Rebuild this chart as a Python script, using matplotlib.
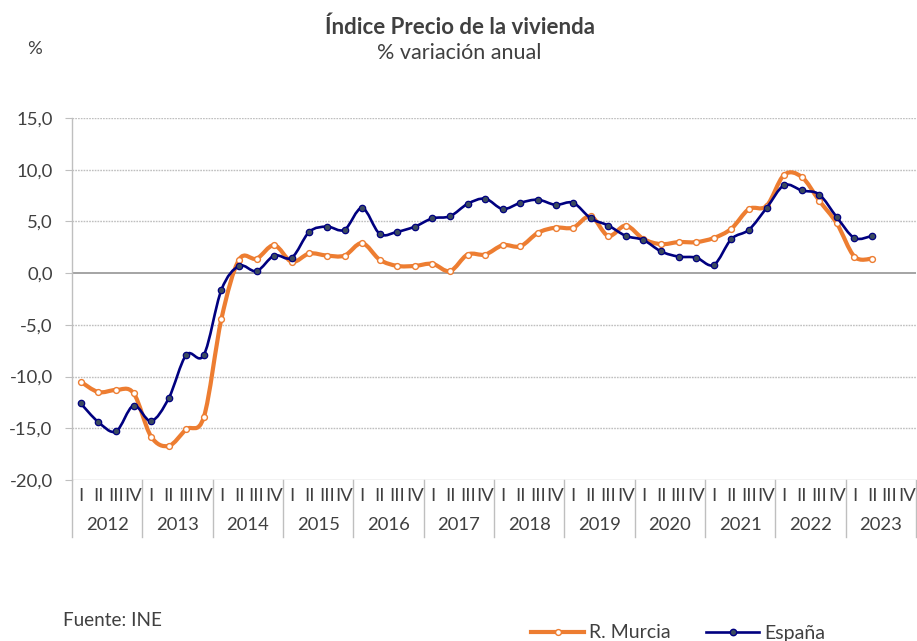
import numpy as np
import matplotlib.pyplot as plt
from matplotlib.path import Path
from matplotlib.patches import PathPatch
from matplotlib.lines import Line2D

plt.rcParams['font.family'] = ['Lato', 'DejaVu Sans']

years = ['2012', '2013', '2014', '2015', '2016', '2017', '2018', '2019',
         '2020', '2021', '2022', '2023']
quarters = ['I', 'II', 'III', 'IV']

# variacion anual (%), 2012 T1 - 2023 T2
murcia = [-10.5, -11.5, -11.3, -11.6, -15.8, -16.7, -15.1, -13.9,
          -4.4, 1.3, 1.4, 2.7, 1.1, 1.9, 1.7, 1.7,
          2.9, 1.3, 0.7, 0.7, 0.9, 0.2, 1.8, 1.8,
          2.7, 2.6, 3.9, 4.4, 4.4, 5.5, 3.6, 4.6,
          3.3, 2.8, 3.0, 3.0, 3.4, 4.3, 6.2, 6.5,
          9.5, 9.3, 7.0, 4.8, 1.6, 1.4]
espana = [-12.6, -14.4, -15.3, -12.8, -14.3, -12.1, -7.9, -7.9,
          -1.6, 0.7, 0.2, 1.7, 1.5, 4.0, 4.5, 4.2,
          6.3, 3.8, 4.0, 4.5, 5.3, 5.5, 6.7, 7.2,
          6.2, 6.8, 7.1, 6.6, 6.8, 5.3, 4.6, 3.6,
          3.2, 2.1, 1.6, 1.5, 0.8, 3.3, 4.2, 6.3,
          8.5, 8.0, 7.6, 5.4, 3.4, 3.6]

ORANGE = '#ED7D31'
NAVY = '#000080'
GREY_TXT = '#404040'
FS = 13.3


def smooth_path(x, y):
    # bezier segments like excel's smoothed lines
    pts = np.column_stack([x, y]).astype(float)
    n = len(pts)
    verts = [pts[0]]
    codes = [Path.MOVETO]
    for i in range(n - 1):
        p0 = pts[i - 1] if i > 0 else pts[i]
        p1 = pts[i]
        p2 = pts[i + 1]
        p3 = pts[i + 2] if i + 2 < n else pts[i + 1]
        c1 = p1 + (p2 - p0) / 6.0
        c2 = p2 - (p3 - p1) / 6.0
        verts += [c1, c2, p2]
        codes += [Path.CURVE4] * 3
    return Path(verts, codes)


fig = plt.figure(figsize=(9.17, 6.41), dpi=100)
ax = fig.add_axes([72 / 917, 1 - 480 / 641, 844 / 917, 362 / 641])

n_q = len(years) * 4
ax.set_xlim(-0.5, n_q - 0.5)
ax.set_ylim(-20, 15)

x_m = np.arange(len(murcia))
x_e = np.arange(len(espana))

ax.add_patch(PathPatch(smooth_path(x_m, murcia), fill=False, edgecolor=ORANGE,
                       lw=3.0, capstyle='round', joinstyle='round', zorder=3))
ax.plot(x_m, murcia, ls='none', marker='o', ms=4.2, mfc='white', mec=ORANGE,
        mew=1.0, zorder=4)
ax.add_patch(PathPatch(smooth_path(x_e, espana), fill=False, edgecolor=NAVY,
                       lw=1.9, capstyle='round', joinstyle='round', zorder=5))
ax.plot(x_e, espana, ls='none', marker='o', ms=4.6, mfc='#3B4B5E', mec=NAVY,
        mew=0.9, zorder=6)

# grid
yt = np.arange(-20, 16, 5)
ax.set_yticks(yt)
ax.set_yticklabels([f'{v:.1f}'.replace('.', ',') for v in yt], fontsize=FS,
                   color=GREY_TXT)
for v in yt:
    if v == 0:
        ax.axhline(v, color='#8C8C8C', lw=1.1, zorder=1)
    elif v == -20:
        ax.axhline(v, color='#BFBFBF', lw=1.0, zorder=1)
    else:
        ax.axhline(v, color='#BFBFBF', lw=1.0, ls=(0, (1.2, 0.8)), zorder=1)
ax.tick_params(axis='y', length=5, color='#BFBFBF', pad=9)

for s in ['top', 'right', 'bottom']:
    ax.spines[s].set_visible(False)
ax.spines['left'].set_color('#BFBFBF')
ax.spines['left'].set_linewidth(1.0)

# two level category axis
ax.set_xticks(range(n_q))
ax.set_xticklabels(quarters * len(years), fontsize=FS, color=GREY_TXT)
ax.tick_params(axis='x', length=0, pad=6)

trans = ax.get_xaxis_transform()
drop = 57 / 362
for k in range(len(years) + 1):
    xs = k * 4 - 0.5
    ax.add_line(Line2D([xs, xs], [0, -drop], transform=trans, color='#BFBFBF',
                       lw=1.0, clip_on=False))
for k, yr in enumerate(years):
    ax.text(k * 4 + 1.5, -45 / 362, yr, transform=trans, ha='center',
            va='center', fontsize=FS, color=GREY_TXT)

fig.text(460 / 917, 1 - 27 / 641, 'Índice Precio de la vivienda', ha='center',
         va='center', fontsize=16, fontweight='bold', color=GREY_TXT)
fig.text(459 / 917, 1 - 53 / 641, '% variación anual', ha='center',
         va='center', fontsize=15.5, color=GREY_TXT)
fig.text(35 / 917, 1 - 49 / 641, '%', ha='center', va='center',
         fontsize=FS, color=GREY_TXT)
fig.text(63 / 917, 1 - 621 / 641, 'Fuente: INE', ha='left', va='center',
         fontsize=13.6, color=GREY_TXT)

handles = [
    Line2D([], [], color=ORANGE, lw=3.0, marker='o', ms=4.2, mfc='white',
           mec=ORANGE),
    Line2D([], [], color=NAVY, lw=1.9, marker='o', ms=4.6, mfc='#3B4B5E',
           mec=NAVY),
]
fig.legend(handles, ['R. Murcia', 'España'], loc='center left',
           bbox_to_anchor=(531 / 917, 1 - 633 / 641), ncol=2, frameon=False,
           fontsize=14, handlelength=2.75, handletextpad=0.25,
           columnspacing=1.8, numpoints=1, labelcolor=GREY_TXT,
           borderaxespad=0, borderpad=0)

fig.savefig('out.png', dpi=100)
